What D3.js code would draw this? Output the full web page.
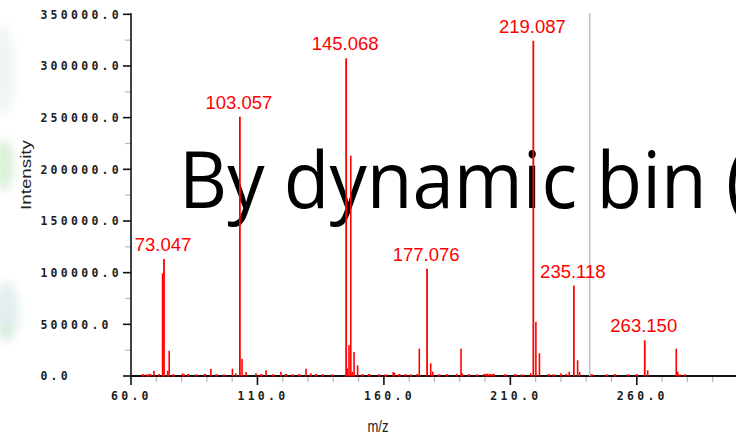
<!DOCTYPE html>
<html>
<head>
<meta charset="utf-8">
<script src="https://cdn.jsdelivr.net/npm/d3@7"></script>
<style>
  html, body { margin: 0; padding: 0; background: #ffffff; }
  svg { display: block; }
</style>
</head>
<body>
<svg id="chart" width="736" height="438"></svg>
<script>
// Labelled fragment peaks (m/z and intensity)
const labelMz = [73.047, 103.057, 145.068, 177.076, 219.087, 235.118, 263.150];
const labelIntensity = [113200, 250900, 307400, 103800, 324500, 87400, 34500];

// Unlabelled peaks
const peakMz = [69.1, 71.1, 72.5, 74.5, 75.1, 80.4, 81.0, 91.6, 100.1, 101.4, 103.9, 105.5,
  109.4, 113.4, 119.3, 129.2, 131.1, 145.5, 146.2, 146.9, 147.5, 148.2, 149.6, 163.7, 164.2,
  173.1, 174.0, 178.5, 179.3, 188.8, 190.5, 191.0, 218.0, 220.1, 221.5, 230.0, 232.1, 233.3,
  236.6, 237.4, 264.3, 275.6, 276.2, 277.1];
const peakIntensity = [5100, 2000, 99400, 5100, 24500, 2600, 2000, 7100, 7100, 2600, 16700, 3900,
  2600, 5500, 4000, 7100, 2600, 7400, 29700, 213200, 4000, 23200, 10300, 3900, 3000,
  2000, 26400, 12300, 4200, 2000, 26400, 2600, 2600, 52200, 22000, 2600, 2000, 4200,
  15200, 3900, 5500, 26400, 4200, 1500];

// Baseline noise
const noiseMz = [64.8, 66.4, 67.5, 76.7, 82.6, 85.9, 89.2, 93.8, 96.8, 111.5, 116.3, 121.3,
  124.0, 126.6, 133.2, 135.8, 139.7, 151.5, 154.2, 158.1, 160.7, 166.1, 168.6, 170.6, 181.8,
  185.0, 193.6, 196.9, 199.8, 200.9, 202.1, 203.3, 208.0, 212.0, 214.6, 225.1, 227.1, 242.2,
  248.1, 251.4, 256.6, 259.9, 279.0];
const noiseIntensity = [1800, 1500, 2000, 1600, 1800, 1500, 2000, 1700, 1500, 1800, 1600, 1900,
  1500, 1700, 1800, 1600, 1500, 1700, 1900, 1600, 1500, 1800, 1700, 1500, 1600,
  1800, 1700, 1500, 2000, 2200, 1900, 2100, 1600, 1700, 1500, 1800, 1600, 1700,
  1500, 1800, 1600, 1700, 1500];

// Cursor position
const cursorMz = 241.4;

// Axis ticks
const yMajorTicks = [0, 50000, 100000, 150000, 200000, 250000, 300000, 350000];
const yMinorTicks = [25000, 75000, 125000, 175000, 225000, 275000, 325000];
const xMajorTicks = [60, 110, 160, 210, 260];
const xMinorTicks = [70, 80, 90, 100, 120, 130, 140, 150, 170, 180, 190, 200, 220, 230, 240, 250, 270, 280, 290];

const xTitle = "m/z";
const yTitle = "Intensity";
const overlayText = "By dynamic bin (";

const svg = d3.select("#chart");

const x = d3.scaleLinear().domain([60, 300]).range([131, 131 + 240 * 2.529]);
const y = d3.scaleLinear().domain([0, 350000]).range([376, 14.3]);
const fmt = d3.format(".1f");

// Soft decorative background shapes at the left edge
const defs = svg.append("defs");
defs.append("filter").attr("id", "soft")
  .attr("x", "-100%").attr("y", "-100%").attr("width", "300%").attr("height", "300%")
  .append("feGaussianBlur").attr("stdDeviation", 5);
const blobs = svg.append("g").attr("filter", "url(#soft)");
blobs.append("ellipse").attr("cx", 3).attr("cy", 70).attr("rx", 12).attr("ry", 45).attr("fill", "#f0f4f5");
blobs.append("ellipse").attr("cx", 4).attr("cy", 165).attr("rx", 10).attr("ry", 26).attr("fill", "#dbf1d9");
blobs.append("ellipse").attr("cx", 6).attr("cy", 312).attr("rx", 13).attr("ry", 30).attr("fill", "#e3edef");
blobs.append("ellipse").attr("cx", 6).attr("cy", 331).attr("rx", 6).attr("ry", 6).attr("fill", "#cdefcd");

// Overlay title text
svg.append("text")
  .attr("x", 179).attr("y", 208)
  .attr("font-family", "'Open Sans', 'Noto Sans', sans-serif")
  .attr("font-size", 78)
  .attr("fill", "#000")
  .attr("textLength", 569)
  .attr("lengthAdjust", "spacingAndGlyphs")
  .text(overlayText);

// Minor ticks
svg.append("g").selectAll("line").data(yMinorTicks).join("line")
  .attr("x1", 125).attr("x2", x(60))
  .attr("y1", d => y(d)).attr("y2", d => y(d))
  .attr("stroke", "#b8b8b8").attr("stroke-width", 1.2);
svg.append("g").selectAll("line").data(xMinorTicks).join("line")
  .attr("x1", d => x(d)).attr("x2", d => x(d))
  .attr("y1", y(0)).attr("y2", y(0) + 6)
  .attr("stroke", "#b8b8b8").attr("stroke-width", 1.2);

// Major ticks
svg.append("g").selectAll("line").data(yMajorTicks).join("line")
  .attr("x1", 123).attr("x2", x(60))
  .attr("y1", d => y(d)).attr("y2", d => y(d))
  .attr("stroke", "#111").attr("stroke-width", 1.6);
svg.append("g").selectAll("line").data(xMajorTicks).join("line")
  .attr("x1", d => x(d)).attr("x2", d => x(d))
  .attr("y1", y(0)).attr("y2", y(0) + 9)
  .attr("stroke", "#111").attr("stroke-width", 1.6);

// Tick labels
const tickFont = "'DejaVu Sans Mono', 'Liberation Mono', monospace";
svg.append("g").selectAll("text").data(yMajorTicks).join("text")
  .attr("x", 40.4).attr("y", d => y(d) + 4.2)
  .attr("font-family", tickFont).attr("font-weight", "bold").attr("font-size", 11.5)
  .attr("letter-spacing", 3.28).attr("fill", "#1e1e1e")
  .text(d => fmt(d));
svg.append("g").selectAll("text").data(xMajorTicks).join("text")
  .attr("x", d => x(d) - 20).attr("y", y(0) + 24)
  .attr("font-family", tickFont).attr("font-weight", "bold").attr("font-size", 11.5)
  .attr("letter-spacing", 3.28).attr("fill", "#1e1e1e")
  .text(d => fmt(d));

// Axis titles
svg.append("text")
  .attr("transform", "translate(31,175) rotate(-90)")
  .attr("text-anchor", "middle")
  .attr("font-family", "'Liberation Sans', Arial, sans-serif")
  .attr("font-size", 15).attr("fill", "#222")
  .attr("textLength", 70).attr("lengthAdjust", "spacingAndGlyphs")
  .text(yTitle);
svg.append("text")
  .attr("x", 378).attr("y", 432)
  .attr("text-anchor", "middle")
  .attr("font-family", "'Liberation Sans', Arial, sans-serif")
  .attr("font-size", 16).attr("fill", "#222")
  .attr("textLength", 21).attr("lengthAdjust", "spacingAndGlyphs")
  .text(xTitle);

// Axis lines
svg.append("line").attr("x1", x(60)).attr("x2", x(60)).attr("y1", y(350000) - 1).attr("y2", y(0))
  .attr("stroke", "#111").attr("stroke-width", 1.6);
svg.append("line").attr("x1", x(60)).attr("x2", 736).attr("y1", y(0)).attr("y2", y(0))
  .attr("stroke", "#111").attr("stroke-width", 2);

// Cursor line
svg.append("line").attr("x1", x(cursorMz)).attr("x2", x(cursorMz))
  .attr("y1", 13).attr("y2", y(0))
  .attr("stroke", "#c4c4c4").attr("stroke-width", 1.6);

// Peaks
const noise = noiseMz.map((m, i) => ({ mz: m, v: noiseIntensity[i] }));
const peaks = peakMz.map((m, i) => ({ mz: m, v: peakIntensity[i] }));
const labelled = labelMz.map((m, i) => ({ mz: m, v: labelIntensity[i] }));

const drawSticks = (data, w) => svg.append("g").selectAll("line").data(data).join("line")
  .attr("x1", d => x(d.mz)).attr("x2", d => x(d.mz))
  .attr("y1", y(0) + 0.5).attr("y2", d => y(d.v))
  .attr("stroke", "#ff0000").attr("stroke-width", w);

drawSticks(noise, 2.5);
drawSticks(peaks, 1.6);
drawSticks(labelled, 1.8);

// Peak labels
svg.append("g").selectAll("text").data(labelled).join("text")
  .attr("x", d => x(d.mz) - 1).attr("y", d => y(d.v) - 8)
  .attr("text-anchor", "middle")
  .attr("font-family", "'Liberation Sans', Arial, sans-serif")
  .attr("font-size", 18.5).attr("fill", "#ff0000")
  .text(d => d.mz.toFixed(3));
</script>
</body>
</html>
